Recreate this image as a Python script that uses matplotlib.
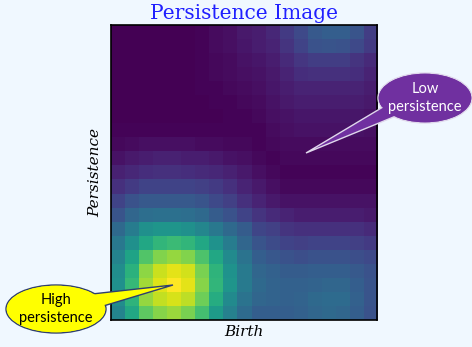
import numpy as np
import matplotlib
matplotlib.use("Agg")
import matplotlib.pyplot as plt
from matplotlib.patches import Ellipse, Polygon

# persistence image values (0-100), top row first
pimg = [
    [0, 0, 0, 0, 0, 0, 1, 3, 4, 7, 8, 11, 17, 22, 28, 30, 30, 26, 18],
    [0, 0, 0, 0, 0, 0, 1, 3, 4, 6, 8, 10, 15, 20, 25, 26, 25, 22, 17],
    [0, 0, 0, 0, 0, 0, 1, 2, 3, 5, 6, 8, 12, 16, 18, 18, 18, 15, 12],
    [0, 0, 0, 0, 0, 0, 1, 2, 3, 4, 5, 7, 10, 13, 14, 14, 14, 13, 10],
    [0, 0, 0, 0, 0, 0, 1, 1, 2, 3, 4, 6, 8, 10, 10, 10, 10, 10, 8],
    [0, 0, 0, 0, 0, 0, 0, 1, 1, 2, 3, 5, 7, 8, 8, 8, 8, 8, 7],
    [0, 0, 0, 0, 0, 0, 0, 0, 1, 1, 2, 4, 5, 6, 6, 6, 6, 6, 5],
    [1, 1, 1, 1, 1, 1, 1, 1, 1, 1, 1, 3, 4, 5, 5, 5, 5, 5, 4],
    [2, 3, 4, 4, 4, 4, 3, 3, 2, 2, 1, 2, 3, 3, 3, 3, 3, 3, 3],
    [5, 7, 8, 9, 9, 8, 8, 7, 5, 4, 2, 1, 2, 2, 2, 2, 2, 2, 2],
    [9, 11, 13, 14, 14, 13, 12, 11, 9, 7, 4, 2, 1, 1, 1, 1, 1, 1, 1],
    [14, 17, 20, 20, 20, 20, 19, 17, 14, 10, 7, 4, 2, 2, 2, 2, 2, 2, 2],
    [20, 25, 28, 28, 28, 28, 26, 22, 19, 14, 10, 7, 5, 5, 5, 5, 5, 5, 5],
    [26, 33, 36, 37, 37, 36, 34, 29, 25, 20, 15, 12, 10, 8, 8, 8, 8, 8, 7],
    [34, 42, 50, 52, 52, 50, 46, 40, 34, 29, 21, 19, 15, 14, 14, 14, 14, 14, 12],
    [40, 50, 60, 66, 68, 66, 60, 51, 42, 33, 26, 23, 20, 19, 20, 20, 20, 19, 17],
    [45, 58, 73, 81, 84, 81, 72, 60, 48, 38, 30, 27, 25, 24, 25, 25, 25, 24, 22],
    [49, 64, 83, 92, 96, 93, 80, 65, 51, 41, 33, 31, 29, 29, 30, 30, 30, 28, 25],
    [50, 67, 86, 95, 100, 96, 82, 66, 52, 41, 34, 32, 31, 31, 32, 33, 33, 30, 26],
    [49, 65, 84, 91, 94, 90, 78, 62, 48, 38, 33, 32, 31, 32, 34, 35, 35, 31, 26],
    [45, 60, 75, 82, 85, 80, 70, 55, 44, 35, 30, 30, 30, 31, 33, 34, 33, 30, 25],
]
title = "Persistence Image"
xlabel = "Birth"
ylabel = "Persistence"
high_text = "High\npersistence"
low_text = "Low\npersistence"

bg = "#f0f8ff"
fig = plt.figure(figsize=(4.72, 3.47), dpi=100, facecolor=bg)
ax = fig.add_axes([0.235, 0.078, 0.564, 0.850])
ax.imshow(np.array(pimg), cmap="viridis", vmin=0, vmax=100,
          aspect="auto", interpolation="nearest")
ax.set_xticks([])
ax.set_yticks([])
for s in ax.spines.values():
    s.set_linewidth(1.2)
ax.set_title(title, family="DejaVu Serif", fontsize=14.5, color="#2020ff", pad=4)
ax.set_xlabel(xlabel, family="DejaVu Serif", style="italic", fontsize=11, labelpad=4)
ax.set_ylabel(ylabel, family="DejaVu Serif", style="italic", fontsize=11, labelpad=6)

# callouts drawn on an overlay in pixel coordinates
ov = fig.add_axes([0, 0, 1, 1], facecolor="none")
ov.set_xlim(0, 472)
ov.set_ylim(347, 0)
ov.axis("off")

def callout(cx, cy, w, h, wedge, fc, ec, txt, tc):
    ov.add_patch(Ellipse((cx, cy), w, h, fc=fc, ec=ec, lw=1.0))
    ov.add_patch(Polygon(wedge, closed=True, fc=fc, ec=ec, lw=1.0))
    ov.add_patch(Ellipse((cx, cy), w - 1.5, h - 1.5, fc=fc, ec="none"))
    ov.text(cx, cy, txt, ha="center", va="center", color=tc,
            family="Lato", fontsize=10.5, linespacing=1.35)

callout(56, 309, 100, 48, [(92, 294), (173, 285), (100, 307)],
        "#ffff00", "#2f3f6f", high_text, "black")
callout(425, 98, 94, 50, [(388, 104), (306, 153), (396, 116)],
        "#7030a0", "#e0d8ec", low_text, "white")

fig.savefig("out.png", dpi=100, facecolor=bg)
